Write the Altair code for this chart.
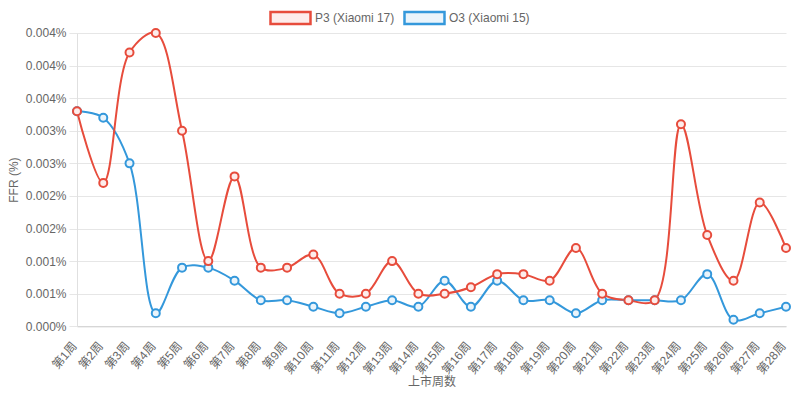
import altair as alt
import pandas as pd

weeks = [f"第{i}周" for i in range(1, 29)]
series_names = ["P3 (Xiaomi 17)", "O3 (Xiaomi 15)"]
p3_values = [0.0033, 0.0022, 0.0042, 0.0045, 0.0030, 0.0010, 0.0023, 0.0009, 0.0009, 0.0011,
             0.0005, 0.0005, 0.0010, 0.0005, 0.0005, 0.0006, 0.0008, 0.0008, 0.0007, 0.0012,
             0.0005, 0.0004, 0.0004, 0.0031, 0.0014, 0.0007, 0.0019, 0.0012]
o3_values = [0.0033, 0.0032, 0.0025, 0.0002, 0.0009, 0.0009, 0.0007, 0.0004, 0.0004, 0.0003,
             0.0002, 0.0003, 0.0004, 0.0003, 0.0007, 0.0003, 0.0007, 0.0004, 0.0004, 0.0002,
             0.0004, 0.0004, 0.0004, 0.0004, 0.0008, 0.0001, 0.0002, 0.0003]
line_colors = ["#e74c3c", "#3498db"]
fill_colors = ["#fdeceb", "#eaf4fb"]
y_ticks = [0, 0.0005, 0.001, 0.0015, 0.002, 0.0025, 0.003, 0.0035, 0.004, 0.0045]

rows = []
for name, vals in [(series_names[1], o3_values), (series_names[0], p3_values)]:
    for w, v in zip(weeks, vals):
        rows.append({"week": w, "series": name, "ffr": v})
df = pd.DataFrame(rows)

FONT = "Liberation Sans, 'Noto Sans CJK SC', sans-serif"
GREY = "#666666"

x_enc = alt.X("week:N", sort=weeks, scale=alt.Scale(type="point", padding=0),
              axis=alt.Axis(title="上市周数", labelAngle=-50, labelAlign="right",
                            labelBaseline="middle", labelPadding=17, labelOffset=-3,
                            ticks=False, grid=False,
                            domainColor="#cfcfcf", titleY=59, titleBaseline="alphabetic",
                            labelOverlap=False))
y_enc = alt.Y("ffr:Q", scale=alt.Scale(domain=[0, 0.0045], nice=False, zero=True),
              axis=alt.Axis(title="FFR (%)", values=y_ticks,
                            labelExpr="format(datum.value, '.3f') + '%'",
                            tickSize=8, tickColor="#e6e6e6", labelPadding=3,
                            gridColor="#e6e6e6", domainColor="#e0e0e0",
                            titleX=-64, titleY=146.6, titleAlign="center",
                            titleBaseline="middle", titleAngle=-90))

stroke_scale = alt.Scale(domain=series_names, range=line_colors)
fill_scale = alt.Scale(domain=series_names, range=fill_colors)
legend = alt.Legend(title=None, orient="none", legendX=192, legendY=-36.7,
                    direction="horizontal")

lines = alt.Chart(df).mark_line(interpolate="catmull-rom", strokeWidth=2).encode(
    x=x_enc, y=y_enc,
    stroke=alt.Stroke("series:N", scale=stroke_scale, legend=legend),
)
points = alt.Chart(df).mark_point(shape="circle", size=64, strokeWidth=2, filled=False,
                                  opacity=1).encode(
    x=x_enc, y=y_enc,
    stroke=alt.Stroke("series:N", scale=stroke_scale, legend=legend),
    fill=alt.Fill("series:N", scale=fill_scale, legend=legend),
)

chart = alt.layer(lines, points).properties(
    width=709, height=293.3,
    autosize=alt.AutoSizeParams(type="none"),
    padding={"left": 69, "top": 25, "right": 6, "bottom": 67},
).configure_view(stroke=None).configure_axis(
    labelFont=FONT, titleFont=FONT, labelFontSize=12, titleFontSize=12,
    labelColor=GREY, titleColor=GREY, titleFontWeight="normal",
).configure_legend(
    labelFont=FONT, labelFontSize=12, labelColor=GREY,
    symbolType="M-1,-0.3H1V0.3H-1Z", symbolSize=1600, symbolStrokeWidth=2.5,
    labelOffset=3, columnPadding=4, padding=0, rowPadding=0,
)

chart.save("out.html", embed_options={"renderer": "svg", "actions": False})
